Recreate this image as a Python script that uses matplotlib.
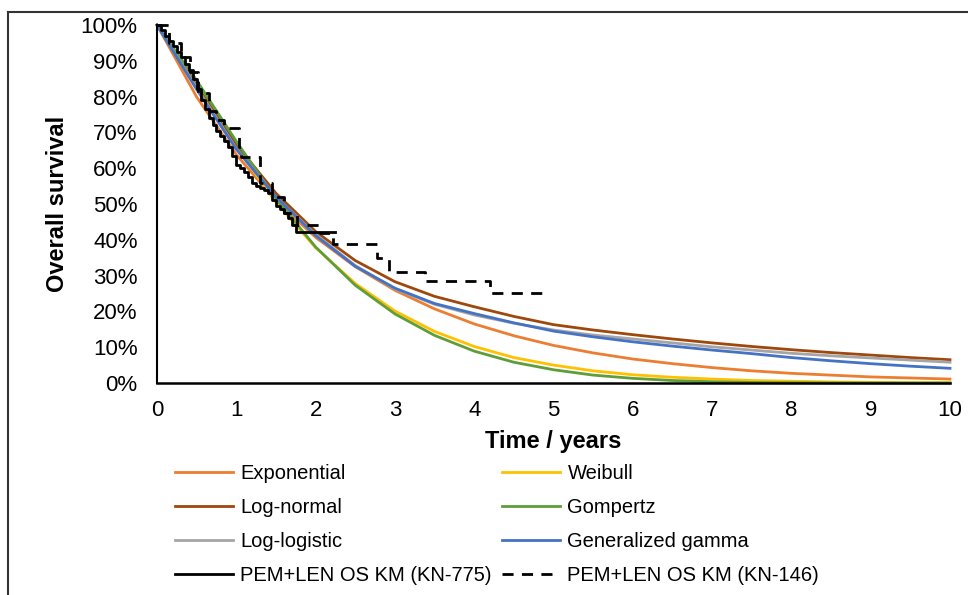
import matplotlib as mpl
import matplotlib.pyplot as plt
from matplotlib.lines import Line2D
from matplotlib.ticker import FuncFormatter

# Data
years = [0, 0.5, 1, 1.5, 2, 2.5, 3, 3.5, 4, 4.5, 5, 5.5, 6, 6.5, 7, 7.5, 8, 8.5, 9, 9.5, 10]

exponential = [100, 79.9, 63.8, 50.9, 40.7, 32.5, 25.9, 20.7, 16.5, 13.2, 10.5,
               8.4, 6.7, 5.4, 4.3, 3.4, 2.7, 2.2, 1.7, 1.4, 1.1]
weibull = [100, 83.8, 66.0, 50.5, 37.8, 27.8, 20.1, 14.4, 10.2, 7.1, 5.0,
           3.4, 2.3, 1.6, 1.1, 0.7, 0.5, 0.3, 0.2, 0.1, 0.1]
log_normal = [100, 83.0, 66.5, 53.0, 42.3, 34.2, 28.3, 24.2, 21.3, 18.6, 16.3,
              14.8, 13.5, 12.3, 11.2, 10.2, 9.3, 8.5, 7.8, 7.1, 6.5]
gompertz = [100, 84.5, 67.5, 51.5, 38.0, 27.3, 19.3, 13.3, 8.9, 5.8, 3.7,
            2.2, 1.3, 0.7, 0.35, 0.15, 0.07, 0.03, 0.01, 0, 0]
log_logistic = [100, 82.5, 65.5, 52.0, 41.5, 32.8, 26.3, 22.0, 19.0, 16.7, 14.8,
                13.4, 12.3, 11.2, 10.1, 9.2, 8.3, 7.6, 7.0, 6.4, 5.8]
gen_gamma = [100, 82.0, 65.3, 52.0, 41.2, 32.6, 26.5, 22.2, 19.4, 16.8, 14.5,
             12.9, 11.5, 10.3, 9.2, 8.2, 7.1, 6.2, 5.4, 4.7, 4.1]

km775_t = [0, 0.05, 0.1, 0.15, 0.2, 0.25, 0.3, 0.35, 0.4, 0.45, 0.5, 0.55, 0.6,
           0.65, 0.7, 0.75, 0.8, 0.85, 0.9, 0.95, 1.0, 1.05, 1.1, 1.15, 1.2,
           1.25, 1.3, 1.35, 1.4, 1.45, 1.5, 1.55, 1.6, 1.65, 1.7, 1.75, 2.25]
km775_s = [100, 98.5, 97, 95.5, 94, 92.5, 91, 89, 87.5, 85, 82, 79, 76.5,
           74, 72, 70.5, 69, 67.5, 66, 63.5, 61, 60, 59, 57.5, 56,
           55, 54.5, 54, 53, 51, 49.5, 48.5, 47.5, 46, 44, 42.3, 42.3]

km146_t = [0, 0.15, 0.3, 0.42, 0.52, 0.65, 0.75, 0.85, 1.04, 1.06, 1.30, 1.45,
           1.6, 1.77, 2.05, 2.22, 2.77, 2.92, 3.38, 4.2, 4.85]
km146_s = [100, 95, 91, 87, 81, 76, 73.5, 71.1, 66, 63.2, 56, 52,
           47.5, 44, 42, 38.7, 35, 31.1, 28.5, 25.2, 25.2]

fits = [
    ('Exponential', exponential, '#ED7D31'),
    ('Weibull', weibull, '#FFC000'),
    ('Log-normal', log_normal, '#9E480E'),
    ('Gompertz', gompertz, '#5E9E3A'),
    ('Log-logistic', log_logistic, '#A5A5A5'),
    ('Generalized gamma', gen_gamma, '#4472C4'),
]

mpl.rcParams['font.family'] = ['Liberation Sans', 'DejaVu Sans']

fig = plt.figure(figsize=(9.68, 5.95), dpi=100)
ax = fig.add_axes([157 / 968, 1 - 383 / 595, (950 - 157) / 968, (383 - 25) / 595])

handles = {}
for name, vals, col in fits:
    ln, = ax.plot(years, vals, color=col, linewidth=2.0, clip_on=False, label=name)
    handles[name] = ln

ln775, = ax.plot(km775_t, km775_s, color='black', linewidth=2.0,
                 drawstyle='steps-post', clip_on=False, label='PEM+LEN OS KM (KN-775)')
ln146, = ax.plot(km146_t, km146_s, color='black', linewidth=2.0,
                 drawstyle='steps-post', dashes=(4, 3), clip_on=False,
                 label='PEM+LEN OS KM (KN-146)')

ax.set_xlim(0, 10)
ax.set_ylim(0, 100)
ax.set_xticks(range(0, 11))
ax.set_yticks(range(0, 101, 10))
ax.yaxis.set_major_formatter(FuncFormatter(lambda v, p: '%d%%' % v))
ax.tick_params(length=0, labelsize=16)
ax.tick_params(axis='y', pad=14)
ax.tick_params(axis='x', pad=12)

for s in ['top', 'right']:
    ax.spines[s].set_visible(False)
ax.spines['left'].set_linewidth(1.5)
ax.spines['bottom'].set_linewidth(1.8)

ax.set_xlabel('Time / years', fontsize=17, fontweight='bold', labelpad=6.5)
ax.set_ylabel('Overall survival', fontsize=17, fontweight='bold', labelpad=8)

# Legend: two columns placed separately
leg_kw = dict(frameon=False, fontsize=14.5, handlelength=2.9, handletextpad=0.35,
              labelspacing=0.75, borderpad=0, borderaxespad=0, loc='upper left')
col1 = [handles['Exponential'], handles['Log-normal'], handles['Log-logistic'], ln775]
col2 = [handles['Weibull'], handles['Gompertz'], handles['Generalized gamma'], ln146]
fig.legend(handles=col1, labels=[h.get_label() for h in col1],
           bbox_to_anchor=(175 / 968, 1 - 464 / 595), **leg_kw)
fig.legend(handles=col2, labels=[h.get_label() for h in col2],
           bbox_to_anchor=(502 / 968, 1 - 464 / 595), **leg_kw)

# outer frame edges (top and left) visible in the crop
fig.add_artist(Line2D([8 / 968, 1], [1 - 12 / 595, 1 - 12 / 595], color='#333333', linewidth=1.5))
fig.add_artist(Line2D([8 / 968, 8 / 968], [0, 1 - 12 / 595], color='#333333', linewidth=1.5))

fig.savefig('out.png', dpi=100)
